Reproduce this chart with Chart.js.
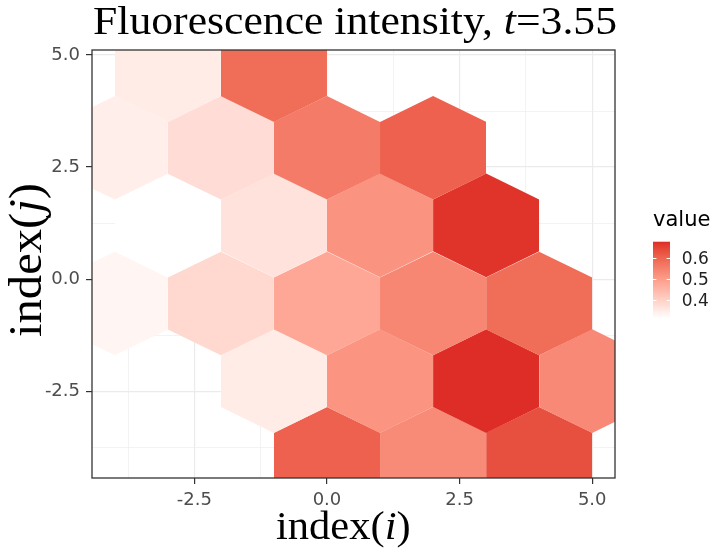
<!DOCTYPE html>
<html><head><meta charset="utf-8">
<script src="https://cdn.jsdelivr.net/npm/chart.js@4/dist/chart.umd.min.js"></script>
<style>
html,body{margin:0;padding:0;background:#fff;}
#wrap{position:relative;width:715px;height:550px;overflow:hidden;background:#fff;}
#wrap canvas{position:absolute;left:0;top:0;}
.t{position:absolute;white-space:nowrap;margin:0;padding:0;}
.serif{font-family:'Liberation Serif','Times New Roman',serif;color:#000;}
.sans{font-family:'DejaVu Sans',sans-serif;}
</style></head><body>
<div id="wrap">
<canvas id="c" width="715" height="550"></canvas>
<div id="title" class="t serif">Fluorescence intensity, <i>t</i>=3.55</div>
<div id="xtitle" class="t serif">index(<i>i</i>)</div>
<div id="ytitle" class="t serif">index(<i>j</i>)</div>
<div id="legTitle" class="t sans">value</div>
</div>
<script>
// ---- data ----
const hexI = [-3, -1,
              -4, -2, 0, 2,
              -3, -1, 1, 3,
              -4, -2, 0, 2, 4,
              -1, 1, 3, 5,
               0, 2, 4];
const hexJ = [4.66, 4.66,
              2.93, 2.93, 2.93, 2.93,
              1.20, 1.20, 1.20, 1.20,
              -0.54, -0.54, -0.54, -0.54, -0.54,
              -2.27, -2.27, -2.27, -2.27,
              -4.00, -4.00, -4.00];
const hexValue = [0.350, 0.587,
                  0.346, 0.379, 0.562, 0.606,
                  0.313, 0.368, 0.518, 0.672,
                  0.331, 0.386, 0.481, 0.540, 0.587,
                  0.350, 0.514, 0.679, 0.536,
                  0.606, 0.533, 0.635];
const xTicks = [-2.5, 0, 2.5, 5];
const yTicks = [-2.5, 0, 2.5, 5];
const xMinor = [-3.75, -1.25, 1.25, 3.75];
const yMinor = [-3.75, -1.25, 1.25, 3.75];
const legendTicks = [0.4, 0.5, 0.6];
const xRange = [-4.43, 5.43];
const yRange = [-4.43, 5.11];

// ---- hex geometry (data units) ----
const HEX_HALF_W = 1.0;
const HEX_R = 1.1547;

// ---- colour scale (Lab interpolation, like ggplot) ----
const LOW = '#FFFFFF', HIGH = '#DE2D26';
function hexToRgb(h){h=h.replace('#','');return [parseInt(h.slice(0,2),16),parseInt(h.slice(2,4),16),parseInt(h.slice(4,6),16)];}
function s2l(c){c/=255;return c<=0.04045?c/12.92:Math.pow((c+0.055)/1.055,2.4);}
function l2s(c){c=c<=0.0031308?12.92*c:1.055*Math.pow(Math.max(c,0),1/2.4)-0.055;return Math.round(Math.max(0,Math.min(1,c))*255);}
function rgbToLab(rgb){
  const R=s2l(rgb[0]),G=s2l(rgb[1]),B=s2l(rgb[2]);
  const X=(0.4124*R+0.3576*G+0.1805*B)/0.95047,Y=0.2126*R+0.7152*G+0.0722*B,Z=(0.0193*R+0.1192*G+0.9505*B)/1.08883;
  const f=t=>t>0.008856?Math.cbrt(t):7.787*t+16/116;
  const fx=f(X),fy=f(Y),fz=f(Z);
  return [116*fy-16,500*(fx-fy),200*(fy-fz)];
}
function labToRgb(lab){
  const fy=(lab[0]+16)/116,fx=fy+lab[1]/500,fz=fy-lab[2]/200;
  const inv=t=>t*t*t>0.008856?t*t*t:(t-16/116)/7.787;
  const X=inv(fx)*0.95047,Y=inv(fy),Z=inv(fz)*1.08883;
  const R=3.2406*X-1.5372*Y-0.4986*Z,G=-0.9689*X+1.8758*Y+0.0415*Z,B=0.0557*X-0.2040*Y+1.0570*Z;
  return 'rgb('+l2s(R)+','+l2s(G)+','+l2s(B)+')';
}
const lowLab=rgbToLab(hexToRgb(LOW)), highLab=rgbToLab(hexToRgb(HIGH));
const vMin=Math.min(...hexValue), vMax=Math.max(...hexValue);
function colourAt(t){t=Math.max(0,Math.min(1,t));return labToRgb([0,1,2].map(k=>lowLab[k]+(highLab[k]-lowLab[k])*t));}
function fillFor(v){return colourAt((v-vMin)/(vMax-vMin));}

// ---- datasets: each hexagon = lower edge + upper edge filled between ----
const datasets=[];
hexI.forEach((cx,k)=>{
  const cy=hexJ[k], col=fillFor(hexValue[k]);
  datasets.push({
    data:[{x:cx-HEX_HALF_W,y:cy-HEX_R/2},{x:cx,y:cy-HEX_R},{x:cx+HEX_HALF_W,y:cy-HEX_R/2}],
    borderWidth:0,borderColor:'rgba(0,0,0,0)',fill:false,pointRadius:0
  });
  datasets.push({
    data:[{x:cx-HEX_HALF_W,y:cy+HEX_R/2},{x:cx,y:cy+HEX_R},{x:cx+HEX_HALF_W,y:cy+HEX_R/2}],
    borderWidth:0,borderColor:'rgba(0,0,0,0)',backgroundColor:col,fill:'-1',pointRadius:0
  });
});

const isIn=(arr,v)=>arr.some(m=>Math.abs(m-v)<1e-9);

const panelBorder={id:'panelBorder',afterDatasetsDraw(chart){
  const a=chart.chartArea,c=chart.ctx;c.save();
  c.strokeStyle='#333333';c.lineWidth=1.3;
  c.strokeRect(a.left,a.top,a.right-a.left,a.bottom-a.top);c.restore();
}};

// legend colourbar layout
const LEG={left:653,width:17,y05:279.3,pxPerUnit:210,labelLeft:681.7};
const legY=v=>LEG.y05-(v-0.5)*LEG.pxPerUnit;
const colorbar={id:'colorbar',afterDraw(chart){
  const c=chart.ctx,top=legY(vMax),bot=legY(vMin);
  c.save();
  const g=c.createLinearGradient(0,bot,0,top);
  for(let i=0;i<=40;i++){g.addColorStop(i/40,colourAt(i/40));}
  c.fillStyle=g;c.fillRect(LEG.left,top,LEG.width,bot-top);
  c.strokeStyle='#ffffff';c.lineWidth=1;
  legendTicks.forEach(v=>{const y=Math.round(legY(v))+0.5;
    c.beginPath();c.moveTo(LEG.left,y);c.lineTo(LEG.left+3.4,y);
    c.moveTo(LEG.left+LEG.width-3.4,y);c.lineTo(LEG.left+LEG.width,y);c.stroke();});
  c.restore();
}};

function axisOpts(range,major,minor,isX){
  return {
    type:'linear',min:range[0],max:range[1],
    afterFit:s=>{if(isX){s.height=72;}else{s.width=92;}},
    afterBuildTicks:s=>{s.ticks=[...minor,...major].sort((a,b)=>a-b).map(v=>({value:v}));},
    ticks:{autoSkip:false,maxRotation:0,minRotation:0,padding:isX?6:6,color:'#4d4d4d',
      font:{family:'DejaVu Sans',size:18},
      callback:v=>isIn(major,v)?v.toFixed(1):''},
    grid:{color:'#ebebeb',
      lineWidth:ctx=>isIn(major,ctx.tick.value)?1.2:0.6,
      tickColor:ctx=>isIn(major,ctx.tick.value)?'#333333':'rgba(0,0,0,0)',
      tickWidth:1.2,tickLength:6,drawTicks:true},
    border:{display:false}
  };
}

new Chart(document.getElementById('c'),{
  type:'line',
  data:{datasets},
  options:{
    responsive:false,animation:false,devicePixelRatio:1,events:[],
    layout:{padding:{left:0,top:50,right:100,bottom:0}},
    plugins:{legend:{display:false},title:{display:false},tooltip:{enabled:false}},
    elements:{point:{radius:0},line:{tension:0}},
    scales:{x:axisOpts(xRange,xTicks,xMinor,true),y:axisOpts(yRange,yTicks,yMinor,false)}
  },
  plugins:[panelBorder,colorbar]
});

// ---- text placement ----
function place(el,css){Object.assign(el.style,css);}
const title=document.getElementById('title');
place(title,{fontSize:'40px',lineHeight:'40px',left:'93px',top:'1px',transformOrigin:'0 0'});
title.style.transform='scaleX('+(524/title.getBoundingClientRect().width)+')';

const xt=document.getElementById('xtitle');
place(xt,{fontSize:'40px',lineHeight:'40px',left:'276px',top:'506px',transformOrigin:'0 0'});
xt.style.transform='scaleX('+(134.7/xt.getBoundingClientRect().width)+')';

const yt=document.getElementById('ytitle');
place(yt,{fontSize:'46px',lineHeight:'46px',left:'26px',top:'260px'});
const ytw=yt.getBoundingClientRect().width;
yt.style.transform='translate(-50%,-50%) rotate(-90deg) scaleX('+(154/ytw)+')';

const lt=document.getElementById('legTitle');
place(lt,{fontSize:'21px',lineHeight:'21px',left:'653px',top:'209px',color:'#000'});

const wrap=document.getElementById('wrap');
legendTicks.forEach(v=>{
  const d=document.createElement('div');
  d.className='t sans';d.textContent=v.toFixed(1);
  place(d,{fontSize:'17px',lineHeight:'17px',left:LEG.labelLeft+'px',top:(legY(v)-8.4)+'px',color:'#222'});
  wrap.appendChild(d);
});
</script>
</body></html>
